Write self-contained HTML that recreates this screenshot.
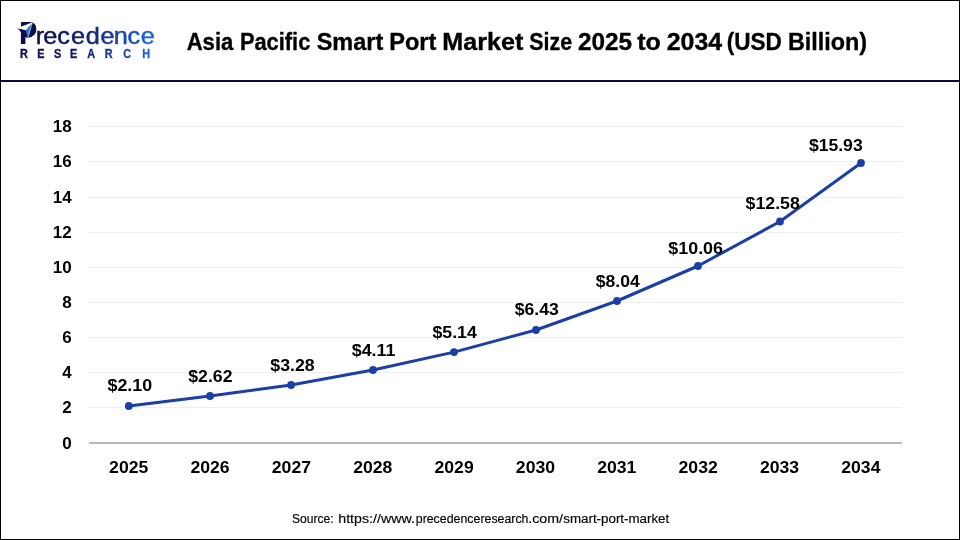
<!DOCTYPE html>
<html lang="en">
<head>
<meta charset="utf-8">
<title>Asia Pacific Smart Port Market Size 2025 to 2034 (USD Billion)</title>
<style>
html,body{margin:0;padding:0;background:#fff;}
body{width:960px;height:540px;overflow:hidden;}
svg{display:block;}
text{font-family:"Liberation Sans",sans-serif;}
.b{font-weight:bold;fill:#000;}
.ax{font-size:17px;}
.ttl{font-size:24.3px;stroke:#000;stroke-width:0.35px;}
.note{font-size:12.3px;fill:#000;stroke:#000;stroke-width:0.15px;}
</style>
</head>
<body>
<svg width="960" height="540" viewBox="0 0 960 540">
<defs>
<linearGradient id="lg2" gradientUnits="userSpaceOnUse" x1="16.4" y1="0" x2="139" y2="0">
<stop offset="0" stop-color="#0b0f4c"/>
<stop offset="0.38" stop-color="#0d1762"/>
<stop offset="0.68" stop-color="#143896"/>
<stop offset="1" stop-color="#1e66e2"/>
</linearGradient>
<linearGradient id="lg3" gradientUnits="userSpaceOnUse" x1="22.5" y1="0" x2="191" y2="0">
<stop offset="0" stop-color="#0b0f4c"/>
<stop offset="0.38" stop-color="#0d1762"/>
<stop offset="0.68" stop-color="#143896"/>
<stop offset="1" stop-color="#1e66e2"/>
</linearGradient>
</defs>
<rect x="0" y="0" width="960" height="540" fill="#fff"/>

<g id="grid">
<rect x="88.0" y="126" width="814.0" height="1" fill="#eeeeee"/>
<rect x="88.0" y="161" width="814.0" height="1" fill="#eeeeee"/>
<rect x="88.0" y="197" width="814.0" height="1" fill="#eeeeee"/>
<rect x="88.0" y="232" width="814.0" height="1" fill="#eeeeee"/>
<rect x="88.0" y="267" width="814.0" height="1" fill="#eeeeee"/>
<rect x="88.0" y="302" width="814.0" height="1" fill="#eeeeee"/>
<rect x="88.0" y="337" width="814.0" height="1" fill="#eeeeee"/>
<rect x="88.0" y="372" width="814.0" height="1" fill="#eeeeee"/>
<rect x="88.0" y="407" width="814.0" height="1" fill="#eeeeee"/>
<rect x="89.0" y="442" width="813.0" height="2" fill="#b9b9b9"/>
</g>
<g id="yaxis">
<text class="b ax" x="71.7" y="132.40" text-anchor="end">18</text>
<text class="b ax" x="71.7" y="167.40" text-anchor="end">16</text>
<text class="b ax" x="71.7" y="203.40" text-anchor="end">14</text>
<text class="b ax" x="71.7" y="238.40" text-anchor="end">12</text>
<text class="b ax" x="71.7" y="273.40" text-anchor="end">10</text>
<text class="b ax" x="71.7" y="308.40" text-anchor="end">8</text>
<text class="b ax" x="71.7" y="343.40" text-anchor="end">6</text>
<text class="b ax" x="71.7" y="378.40" text-anchor="end">4</text>
<text class="b ax" x="71.7" y="413.40" text-anchor="end">2</text>
<text class="b ax" x="71.7" y="448.90" text-anchor="end">0</text>
</g>
<g id="xaxis">
<text class="b ax" x="109.10" y="473" textLength="39.2" lengthAdjust="spacingAndGlyphs">2025</text>
<text class="b ax" x="190.45" y="473" textLength="39.2" lengthAdjust="spacingAndGlyphs">2026</text>
<text class="b ax" x="271.80" y="473" textLength="39.2" lengthAdjust="spacingAndGlyphs">2027</text>
<text class="b ax" x="353.15" y="473" textLength="39.2" lengthAdjust="spacingAndGlyphs">2028</text>
<text class="b ax" x="434.50" y="473" textLength="39.2" lengthAdjust="spacingAndGlyphs">2029</text>
<text class="b ax" x="515.85" y="473" textLength="39.2" lengthAdjust="spacingAndGlyphs">2030</text>
<text class="b ax" x="597.20" y="473" textLength="39.2" lengthAdjust="spacingAndGlyphs">2031</text>
<text class="b ax" x="678.55" y="473" textLength="39.2" lengthAdjust="spacingAndGlyphs">2032</text>
<text class="b ax" x="759.90" y="473" textLength="39.2" lengthAdjust="spacingAndGlyphs">2033</text>
<text class="b ax" x="841.25" y="473" textLength="39.2" lengthAdjust="spacingAndGlyphs">2034</text>
</g>
<g id="series">
<polyline points="128.80,406.00 210.00,396.00 291.10,385.00 373.00,370.00 454.00,352.10 536.00,330.00 617.00,301.00 698.00,266.00 780.00,221.50 861.00,163.00" fill="none" stroke="#1b3fa5" stroke-width="3" stroke-linejoin="round" stroke-linecap="round"/>
<circle cx="128.80" cy="406.00" r="3.9" fill="#1b3fa5"/>
<circle cx="210.00" cy="396.00" r="3.9" fill="#1b3fa5"/>
<circle cx="291.10" cy="385.00" r="3.9" fill="#1b3fa5"/>
<circle cx="373.00" cy="370.00" r="3.9" fill="#1b3fa5"/>
<circle cx="454.00" cy="352.10" r="3.9" fill="#1b3fa5"/>
<circle cx="536.00" cy="330.00" r="3.9" fill="#1b3fa5"/>
<circle cx="617.00" cy="301.00" r="3.9" fill="#1b3fa5"/>
<circle cx="698.00" cy="266.00" r="3.9" fill="#1b3fa5"/>
<circle cx="780.00" cy="221.50" r="3.9" fill="#1b3fa5"/>
<circle cx="861.00" cy="163.00" r="3.9" fill="#1b3fa5"/>
</g>
<g id="labels">
<text class="b ax" x="107.50" y="391.10" textLength="44.70" lengthAdjust="spacingAndGlyphs">$2.10</text>
<text class="b ax" x="188.30" y="382.30" textLength="44.20" lengthAdjust="spacingAndGlyphs">$2.62</text>
<text class="b ax" x="270.30" y="370.80" textLength="44.40" lengthAdjust="spacingAndGlyphs">$3.28</text>
<text class="b ax" x="351.70" y="356.10" textLength="43.80" lengthAdjust="spacingAndGlyphs">$4.11</text>
<text class="b ax" x="432.50" y="337.80" textLength="44.30" lengthAdjust="spacingAndGlyphs">$5.14</text>
<text class="b ax" x="514.70" y="314.50" textLength="44.10" lengthAdjust="spacingAndGlyphs">$6.43</text>
<text class="b ax" x="595.80" y="286.85" textLength="43.90" lengthAdjust="spacingAndGlyphs">$8.04</text>
<text class="b ax" x="668.30" y="253.90" textLength="54.70" lengthAdjust="spacingAndGlyphs">$10.06</text>
<text class="b ax" x="745.60" y="208.50" textLength="54.20" lengthAdjust="spacingAndGlyphs">$12.58</text>
<text class="b ax" x="808.90" y="151.05" textLength="53.80" lengthAdjust="spacingAndGlyphs">$15.93</text>
</g>
<text class="b ttl" y="50"><tspan x="186.70" textLength="46.60" lengthAdjust="spacingAndGlyphs">Asia</tspan> <tspan x="239.90" textLength="70.40" lengthAdjust="spacingAndGlyphs">Pacific</tspan> <tspan x="316.70" textLength="66.60" lengthAdjust="spacingAndGlyphs">Smart</tspan> <tspan x="389.20" textLength="47.20" lengthAdjust="spacingAndGlyphs">Port</tspan> <tspan x="442.20" textLength="81.10" lengthAdjust="spacingAndGlyphs">Market</tspan> <tspan x="529.20" textLength="42.90" lengthAdjust="spacingAndGlyphs">Size</tspan> <tspan x="578.00" textLength="54.10" lengthAdjust="spacingAndGlyphs">2025</tspan> <tspan x="637.20" textLength="23.60" lengthAdjust="spacingAndGlyphs">to</tspan> <tspan x="666.70" textLength="55.40" lengthAdjust="spacingAndGlyphs">2034</tspan> <tspan x="726.70" textLength="55.10" lengthAdjust="spacingAndGlyphs">(USD</tspan> <tspan x="788.00" textLength="79.10" lengthAdjust="spacingAndGlyphs">Billion)</tspan></text>
<text class="note" y="522.8"><tspan x="292.00" textLength="41.60" lengthAdjust="spacingAndGlyphs">Source:</tspan> <tspan x="338.25" textLength="76.75" lengthAdjust="spacingAndGlyphs">https://www.</tspan><tspan x="415.75" textLength="112.75" lengthAdjust="spacingAndGlyphs">precedenceresearch</tspan><tspan x="528.25" textLength="34.75" lengthAdjust="spacingAndGlyphs">.com/</tspan><tspan x="563.25" textLength="106.00" lengthAdjust="spacingAndGlyphs">smart-port-market</tspan></text>
<rect x="0" y="80" width="960" height="2" fill="#09093c"/>
<path d="M0 0H960V540H0Z M1 1V539H959V1Z" fill="#000" fill-rule="evenodd"/>
<g id="logo">
<text transform="scale(1.1 1)"><tspan x="17.42" y="44.15" font-size="31.3" font-weight="bold" fill="#0b0f4c" textLength="16.32" lengthAdjust="spacingAndGlyphs">P</tspan><tspan x="32.56 39.40 52.12 64.58 78.05 91.31 103.49 115.85 127.94" y="44.5" font-size="23" fill="url(#lg2)" stroke="url(#lg2)" stroke-width="0.45">recedence</tspan></text>
<path d="M20.9 30 L25.4 30.4 L25.4 44.1 L20.9 44.1 Z" fill="#0b0f4c"/>
<path d="M24 23 L32.2 22.6 Q35.6 24.6 36.2 29.1 Q36.2 33.6 32.3 36.3 Q30.6 37.4 28.4 37.8 L25.4 37.4 Z" fill="#0b0f4c"/>
<path d="M20.2 26.9 L32.0 22.6 L32.4 23.0 L25.9 30.5 L20.2 29.1 Z" fill="#fff"/>
<path d="M17.1 28.2 L25.9 30.4 L25.4 33.5 L20.9 32.2 Q19.6 29.9 17.1 28.2 Z" fill="#0b0f4c"/>
<path d="M31.9 23.6 L25.9 30.5 L27.6 36.8 Z" fill="#2a7fe6"/>
<path d="M32.2 23.0 L27.9 37.9" stroke="#fff" stroke-width="0.65" fill="none"/>
<text transform="scale(0.8 1)" x="25.08 46.42 67.41 87.67 109.03 130.95 153.94 177.95" y="57.8" font-size="13.6" font-weight="bold" fill="url(#lg3)" stroke="url(#lg3)" stroke-width="0.35">RESEARCH</text>
</g>

</svg>
</body>
</html>
